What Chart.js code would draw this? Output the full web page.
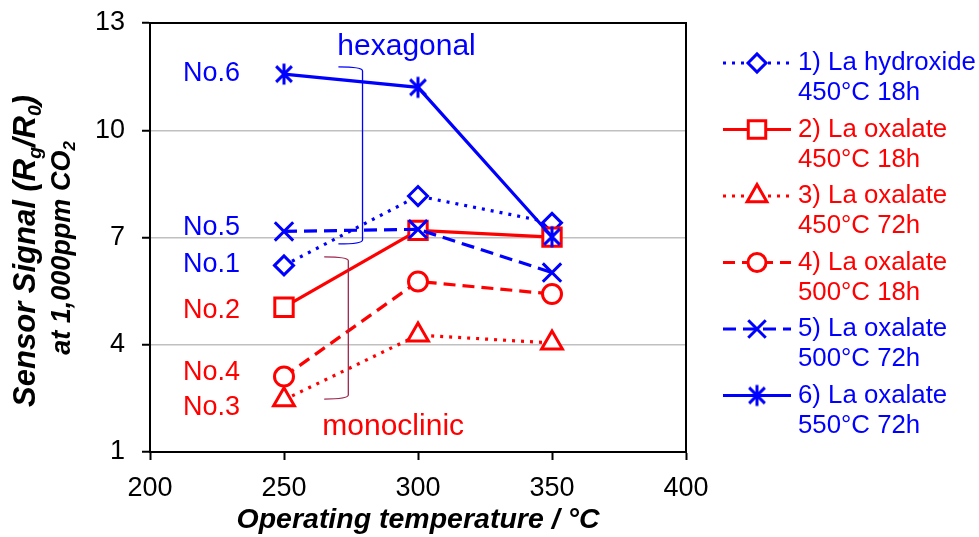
<!DOCTYPE html>
<html>
<head>
<meta charset="utf-8">
<script src="https://cdn.jsdelivr.net/npm/chart.js@4.4.1/dist/chart.umd.min.js"></script>
<style>
  html, body { margin: 0; padding: 0; background: #fff; }
  canvas { display: block; }
</style>
</head>
<body>
<canvas id="chart" width="979" height="537"></canvas>
<script>
// data
const temps = [250, 300, 350];
const hydroxide450_18 = [6.22, 8.16, 7.41];
const oxalate450_18 = [5.05, 7.20, 7.01];
const oxalate450_72 = [2.46, 4.27, 4.05];
const oxalate500_18 = [3.11, 5.77, 5.42];
const oxalate500_72 = [7.17, 7.23, 6.02];
const oxalate550_72 = [11.57, 11.20, 7.02];
const seriesNames = [
  ['1) La hydroxide', '450°C 18h'],
  ['2) La oxalate', '450°C 18h'],
  ['3) La oxalate', '450°C 72h'],
  ['4) La oxalate', '500°C 18h'],
  ['5) La oxalate', '500°C 72h'],
  ['6) La oxalate', '550°C 72h'],
];
const xTicks = [200, 250, 300, 350, 400];
const yTicks = [1, 4, 7, 10, 13];

const BLUE = '#0000FF';
const RED = '#FF0000';
const FONT = "'Liberation Sans', Arial, sans-serif";

// excel-like star marker: vertical bar + X
function starMarker(r, color, lw) {
  const c = document.createElement('canvas');
  const s = Math.ceil(2 * r + lw + 2);
  c.width = s; c.height = s;
  const g = c.getContext('2d');
  const m = s / 2, d = r * 0.75;
  g.strokeStyle = color;
  g.lineWidth = lw;
  g.beginPath();
  g.moveTo(m, m - r); g.lineTo(m, m + r);
  g.moveTo(m - d, m - d); g.lineTo(m + d, m + d);
  g.moveTo(m + d, m - d); g.lineTo(m - d, m + d);
  g.stroke();
  return c;
}

const styles = [
  { color: BLUE, dash: [3, 6], point: 'rectRot', radius: 9.5 },
  { color: RED, dash: [], point: 'rect', radius: 13 },
  { color: RED, dash: [3, 6], point: 'triangle', radius: 12 },
  { color: RED, dash: [12, 7], point: 'circle', radius: 9.5 },
  { color: BLUE, dash: [13, 7], point: 'crossRot', radius: 13 },
  { color: BLUE, dash: [], point: starMarker(10.5, BLUE, 3), radius: 10.5 },
];

const allSeries = [hydroxide450_18, oxalate450_18, oxalate450_72, oxalate500_18, oxalate500_72, oxalate550_72];

const datasets = allSeries.map((vals, i) => ({
  label: seriesNames[i].join(' '),
  data: temps.map((t, j) => ({ x: t, y: vals[j] })),
  borderColor: styles[i].color,
  borderWidth: 3.2,
  borderDash: styles[i].dash,
  pointStyle: styles[i].point,
  pointRadius: styles[i].radius,
  pointHoverRadius: styles[i].radius,
  pointBorderWidth: 3,
  pointBorderColor: styles[i].color,
  pointBackgroundColor: '#fff',
  tension: 0,
  fill: false,
  order: 5 - i,
}));

// sample labels and phase brackets, in data units
const noLabels = [
  ['No.6', 11.60, BLUE], ['No.5', 7.29, BLUE], ['No.1', 6.25, BLUE],
  ['No.2', 4.95, RED], ['No.4', 3.22, RED], ['No.3', 2.24, RED],
];
const brackets = [
  { x1: 270.3, x2: 279.3, top: 11.77, bottom: 6.82, color: BLUE },
  { x1: 265.0, x2: 274.0, top: 6.46, bottom: 2.48, color: '#A0284E' },
];

const decor = {
  id: 'decor',
  afterDatasetsDraw(chart) {
    const { ctx, chartArea: a, scales: { x, y } } = chart;
    ctx.save();
    // frame
    ctx.strokeStyle = '#000';
    ctx.lineWidth = 2;
    ctx.strokeRect(a.left, a.top, a.right - a.left, a.bottom - a.top);

    // brackets
    brackets.forEach(b => {
      const x1 = x.getPixelForValue(b.x1), x2 = x.getPixelForValue(b.x2);
      const t = y.getPixelForValue(b.top), bt = y.getPixelForValue(b.bottom);
      ctx.strokeStyle = b.color;
      ctx.lineWidth = 1.3;
      ctx.beginPath();
      ctx.moveTo(x1, t);
      ctx.quadraticCurveTo(x2, t, x2, t + 4);
      ctx.lineTo(x2, bt - 4);
      ctx.quadraticCurveTo(x2, bt, x1, bt);
      ctx.stroke();
    });

    // sample labels
    ctx.font = '27px ' + FONT;
    ctx.textAlign = 'right';
    ctx.textBaseline = 'middle';
    noLabels.forEach(([t, v, c]) => {
      ctx.fillStyle = c;
      ctx.fillText(t, x.getPixelForValue(233.6), y.getPixelForValue(v));
    });
    ctx.font = '30px ' + FONT;
    ctx.textAlign = 'left';
    ctx.textBaseline = 'alphabetic';
    ctx.fillStyle = BLUE;
    ctx.fillText('hexagonal', x.getPixelForValue(269.9), y.getPixelForValue(12.10));
    ctx.fillStyle = RED;
    ctx.fillText('monoclinic', x.getPixelForValue(264.3), y.getPixelForValue(1.476));

    // legend
    chart.data.datasets.forEach((ds, i) => {
      const ly = 63 + i * 66.5;
      ctx.strokeStyle = ds.borderColor;
      ctx.lineWidth = 3;
      ctx.setLineDash(ds.borderDash);
      ctx.beginPath();
      ctx.moveTo(723, ly);
      ctx.lineTo(791, ly);
      ctx.stroke();
      ctx.setLineDash([]);
      ctx.fillStyle = '#fff';
      Chart.helpers.drawPoint(ctx, {
        pointStyle: ds.pointStyle, radius: ds.pointRadius * 0.95, borderWidth: 3, rotation: 0,
      }, 757, ly);
      ctx.fillStyle = ds.borderColor;
      ctx.font = '25.8px ' + FONT;
      ctx.textAlign = 'left';
      ctx.textBaseline = 'middle';
      ctx.fillText(seriesNames[i][0], 798, ly);
      ctx.fillText(seriesNames[i][1], 798, ly + 30);
    });

    // axis titles
    ctx.fillStyle = '#000';
    ctx.textAlign = 'center';
    ctx.textBaseline = 'alphabetic';
    ctx.font = 'italic bold 28.5px ' + FONT;
    ctx.fillText('Operating temperature / °C', (a.left + a.right) / 2, 528);

    drawRotated(ctx, 35, 251, 31, [['Sensor Signal (R', 0], ['g', 1], ['/R', 0], ['0', 1], [')', 0]]);
    drawRotated(ctx, 70, 248, 27, [['at 1,000ppm CO', 0], ['2', 1]]);
    ctx.restore();
  }
};

function drawRotated(ctx, bx, cy, size, parts) {
  const fontFor = sub => 'italic bold ' + (sub ? size * 0.62 : size) + 'px ' + FONT;
  let total = 0;
  parts.forEach(([t, sub]) => { ctx.font = fontFor(sub); total += ctx.measureText(t).width; });
  ctx.save();
  ctx.translate(bx, cy);
  ctx.rotate(-Math.PI / 2);
  ctx.textAlign = 'left';
  ctx.textBaseline = 'alphabetic';
  let px = -total / 2;
  parts.forEach(([t, sub]) => {
    ctx.font = fontFor(sub);
    ctx.fillText(t, px, sub ? size * 0.2 : 0);
    px += ctx.measureText(t).width;
  });
  ctx.restore();
}

new Chart(document.getElementById('chart'), {
  type: 'line',
  data: { datasets },
  options: {
    responsive: false,
    animation: false,
    layout: { padding: { left: 0, right: 293, top: 23, bottom: 0 } },
    plugins: { legend: { display: false }, tooltip: { enabled: false } },
    scales: {
      x: {
        type: 'linear',
        min: 200, max: 400,
        afterBuildTicks: s => { s.ticks = xTicks.map(v => ({ value: v })); },
        afterFit: s => { s.height = 85; s.paddingLeft = 0; s.paddingRight = 0; },
        grid: { drawOnChartArea: false, drawTicks: true, tickLength: 8, tickColor: '#000', tickWidth: 2 },
        border: { display: true, color: '#000', width: 2 },
        ticks: { color: '#000', font: { family: FONT, size: 27 }, padding: 12, maxRotation: 0 },
      },
      y: {
        type: 'linear',
        min: 1, max: 13,
        afterBuildTicks: s => { s.ticks = yTicks.map(v => ({ value: v })); },
        afterFit: s => { s.width = 150; s.paddingTop = 0; s.paddingBottom = 0; },
        grid: {
          color: c => (c.tick && (c.tick.value === 1 || c.tick.value === 13)) ? 'rgba(0,0,0,0)' : '#C0C0C0',
          lineWidth: 1.5,
          drawTicks: true, tickLength: 8, tickColor: '#000', tickWidth: 2,
        },
        border: { display: true, color: '#000', width: 2 },
        ticks: { color: '#000', font: { family: FONT, size: 27 }, padding: 17 },
      },
    },
  },
  plugins: [decor],
});
</script>
</body>
</html>
